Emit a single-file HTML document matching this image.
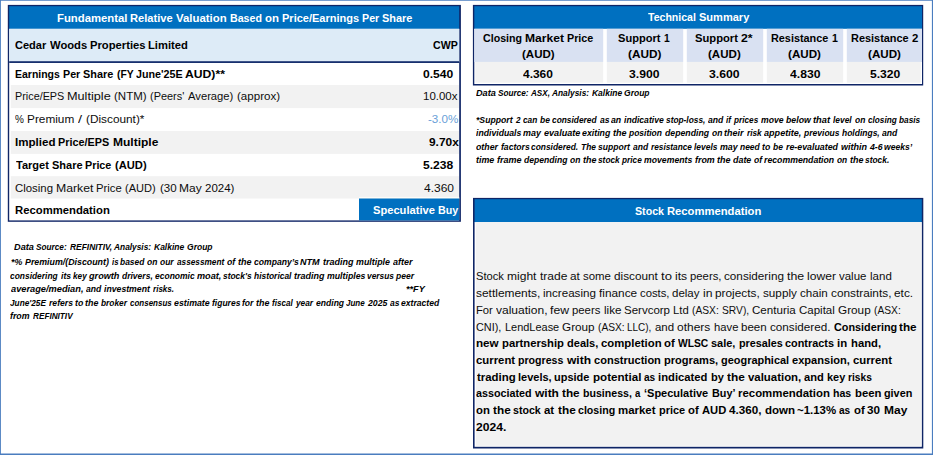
<!DOCTYPE html>
<html><head><meta charset="utf-8"><title>Valuation</title><style>html,body{margin:0;padding:0;background:#fff}body{width:933px;height:455px;position:relative;overflow:hidden;font-family:'Liberation Sans', sans-serif}span{position:absolute;white-space:pre;transform-origin:0 0;line-height:1}.c0{font:normal bold 11.2px/1 'Liberation Sans', sans-serif;color:#fff}.c1{font:normal bold 11.2px/1 'Liberation Sans', sans-serif;color:#000}.c2{font:normal normal 11.2px/1 'Liberation Sans', sans-serif;color:#0d0d0d}.c3{font:normal normal 11.2px/1 'Liberation Sans', sans-serif;color:#6a9fd8}.c4{font:italic bold 9.6px/1 'Liberation Sans', sans-serif;color:#000}</style></head>
<body>
<svg width="933" height="455" viewBox="0 0 933 455" style="position:absolute;left:0;top:0"><rect x="0" y="0" width="933" height="0.75" fill="#4a7dbf"/><rect x="0" y="0" width="0.9" height="455" fill="#4a7dbf"/><rect x="931.9" y="0" width="1.1" height="455" fill="#4a7dbf"/><rect x="0" y="453.5" width="933" height="1.5" fill="#4a7dbf"/><rect x="7.8" y="4.9" width="453.1" height="216.9" fill="#0f2566"/><rect x="9.2" y="6.2" width="450" height="23.8" fill="#0070c0"/><rect x="9.2" y="29" width="450" height="191.4" fill="#fff"/><rect x="9.2" y="28.7" width="450" height="33.3" fill="#ddebf7"/><rect x="9.2" y="61.2" width="450" height="1.8" fill="#17306e"/><rect x="10.8" y="85" width="448.2" height="23.1" fill="#f2f2f2"/><rect x="10.8" y="131" width="448.2" height="22.9" fill="#f2f2f2"/><rect x="10.8" y="176.2" width="448.2" height="22.3" fill="#f2f2f2"/><rect x="359" y="196.9" width="100.2" height="2.1" fill="#fffdf8"/><rect x="359" y="198.5" width="100.2" height="21.9" fill="#0070c0"/><rect x="472.9" y="4.9" width="450.3" height="80.6" fill="#0f2566"/><rect x="474.3" y="6.2" width="447.7" height="23.8" fill="#0070c0"/><rect x="474.3" y="29" width="447.7" height="55" fill="#fff"/><rect x="474.3" y="28.8" width="447.7" height="0.7" fill="#fff"/><rect x="474.3" y="28.8" width="128.9" height="33.2" fill="#d9e1f2"/><rect x="475.3" y="61.9" width="127.9" height="20.8" fill="#f2f2f2"/><rect x="606.8" y="28.8" width="76.4" height="33.2" fill="#d9e1f2"/><rect x="606.8" y="61.9" width="76.4" height="20.8" fill="#f2f2f2"/><rect x="686.8" y="28.8" width="76.4" height="33.2" fill="#d9e1f2"/><rect x="686.8" y="61.9" width="76.4" height="20.8" fill="#f2f2f2"/><rect x="766.8" y="28.8" width="76.4" height="33.2" fill="#d9e1f2"/><rect x="766.8" y="61.9" width="76.4" height="20.8" fill="#f2f2f2"/><rect x="846.8" y="28.8" width="75.2" height="33.2" fill="#d9e1f2"/><rect x="846.8" y="61.9" width="74" height="20.8" fill="#f2f2f2"/><rect x="473" y="197.9" width="450.3" height="250.6" fill="#0f2566"/><rect x="474.6" y="199.2" width="447.2" height="23.8" fill="#0070c0"/><rect x="474.6" y="222.1" width="447.2" height="224.7" fill="#fff"/><rect x="475.9" y="222.1" width="445.5" height="223.7" fill="#f2f2f2"/></svg>
<span class="c0" style="left:56.5px;top:13px;transform:scaleX(1.013)">Fundamental</span>
<span class="c0" style="left:130.1px;top:13px;transform:scaleX(0.993)">Relative</span>
<span class="c0" style="left:175.9px;top:13px;transform:scaleX(1.019)">Valuation</span>
<span class="c0" style="left:229.8px;top:13px;transform:scaleX(0.950)">Based</span>
<span class="c0" style="left:264.8px;top:13px;transform:scaleX(1.020)">on</span>
<span class="c0" style="left:281.7px;top:13px;transform:scaleX(0.985)">Price/Earnings</span>
<span class="c0" style="left:361.9px;top:13px;transform:scaleX(0.955)">Per</span>
<span class="c0" style="left:382.2px;top:13px;transform:scaleX(0.977)">Share</span>
<span class="c1" style="left:15.2px;top:40px;transform:scaleX(0.985)">Cedar</span>
<span class="c1" style="left:49.5px;top:40px;transform:scaleX(1.004)">Woods</span>
<span class="c1" style="left:89.7px;top:40px;transform:scaleX(1.005)">Properties</span>
<span class="c1" style="left:148.2px;top:40px;transform:scaleX(1.002)">Limited</span>
<span class="c1" style="left:432.9px;top:40px;transform:scaleX(0.947)">CWP</span>
<span class="c1" style="left:14.9px;top:69px;transform:scaleX(0.937)">Earnings</span>
<span class="c1" style="left:62.8px;top:69px;transform:scaleX(0.958)">Per</span>
<span class="c1" style="left:83.2px;top:69px;transform:scaleX(0.972)">Share</span>
<span class="c1" style="left:116.7px;top:69px;transform:scaleX(0.922)">(FY</span>
<span class="c1" style="left:135.6px;top:69px;transform:scaleX(0.959)">June&#x27;25E</span>
<span class="c1" style="left:185.2px;top:69px;transform:scaleX(1.087)">AUD)**</span>
<span class="c1" style="left:423.2px;top:69px;transform:scaleX(1.080)">0.540</span>
<span class="c2" style="left:14.7px;top:91px;transform:scaleX(0.967)">Price/EPS</span>
<span class="c2" style="left:67.1px;top:91px;transform:scaleX(1.134)">Multiple</span>
<span class="c2" style="left:114.1px;top:91px;transform:scaleX(1.028)">(NTM)</span>
<span class="c2" style="left:150.2px;top:91px;transform:scaleX(0.977)">(Peers&#x27;</span>
<span class="c2" style="left:187.9px;top:91px;transform:scaleX(1.003)">Average)</span>
<span class="c2" style="left:236.8px;top:91px;transform:scaleX(1.033)">(approx)</span>
<span class="c2" style="left:422.8px;top:91px;transform:scaleX(1.026)">10.00x</span>
<span class="c2" style="left:15.2px;top:114px;transform:scaleX(0.892)">%</span>
<span class="c2" style="left:27.3px;top:114px;transform:scaleX(1.056)">Premium</span>
<span class="c2" style="left:78.1px;top:114px;transform:scaleX(1.300)">/</span>
<span class="c2" style="left:85.9px;top:114px;transform:scaleX(1.056)">(Discount)*</span>
<span class="c3" style="left:427.7px;top:114px;transform:scaleX(1.039)">-3.0%</span>
<span class="c1" style="left:14.8px;top:137px;transform:scaleX(1.034)">Implied</span>
<span class="c1" style="left:58.4px;top:137px;transform:scaleX(0.967)">Price/EPS</span>
<span class="c1" style="left:113.0px;top:137px;transform:scaleX(1.073)">Multiple</span>
<span class="c1" style="left:428.6px;top:137px;transform:scaleX(1.064)">9.70x</span>
<span class="c1" style="left:15.5px;top:160px;transform:scaleX(0.985)">Target</span>
<span class="c1" style="left:51.5px;top:160px;transform:scaleX(0.981)">Share</span>
<span class="c1" style="left:85.1px;top:160px;transform:scaleX(0.963)">Price</span>
<span class="c1" style="left:114.9px;top:160px;transform:scaleX(0.999)">(AUD)</span>
<span class="c1" style="left:423.4px;top:160px;transform:scaleX(1.079)">5.238</span>
<span class="c2" style="left:15.0px;top:183px;transform:scaleX(1.019)">Closing</span>
<span class="c2" style="left:55.6px;top:183px;transform:scaleX(1.095)">Market</span>
<span class="c2" style="left:96.3px;top:183px;transform:scaleX(1.008)">Price</span>
<span class="c2" style="left:125.3px;top:183px;transform:scaleX(0.986)">(AUD)</span>
<span class="c2" style="left:159.5px;top:183px;transform:scaleX(1.032)">(30</span>
<span class="c2" style="left:179.4px;top:183px;transform:scaleX(1.072)">May</span>
<span class="c2" style="left:205.0px;top:183px;transform:scaleX(1.028)">2024)</span>
<span class="c2" style="left:423.8px;top:183px;transform:scaleX(1.072)">4.360</span>
<span class="c1" style="left:14.8px;top:205px;transform:scaleX(1.010)">Recommendation</span>
<span class="c0" style="left:372.9px;top:205px;transform:scaleX(0.995)">Speculative</span>
<span class="c0" style="left:438.0px;top:205px;transform:scaleX(0.955)">Buy</span>
<span class="c4" style="left:14.2px;top:242px;transform:scaleX(0.957)">Data</span>
<span class="c4" style="left:36.4px;top:242px;transform:scaleX(0.858)">Source:</span>
<span class="c4" style="left:69.8px;top:242px;transform:scaleX(0.876)">REFINITIV,</span>
<span class="c4" style="left:114.0px;top:242px;transform:scaleX(0.870)">Analysis:</span>
<span class="c4" style="left:153.8px;top:242px;transform:scaleX(0.886)">Kalkine</span>
<span class="c4" style="left:186.6px;top:242px;transform:scaleX(0.889)">Group</span>
<span class="c4" style="left:10.8px;top:257px;transform:scaleX(0.918)">*%</span>
<span class="c4" style="left:24.8px;top:257px;transform:scaleX(0.920)">Premium/(Discount)</span>
<span class="c4" style="left:111.6px;top:257px;transform:scaleX(0.810)">is</span>
<span class="c4" style="left:120.2px;top:257px;transform:scaleX(0.879)">based</span>
<span class="c4" style="left:147.3px;top:257px;transform:scaleX(0.883)">on</span>
<span class="c4" style="left:160.2px;top:257px;transform:scaleX(0.883)">our</span>
<span class="c4" style="left:176.7px;top:257px;transform:scaleX(0.860)">assessment</span>
<span class="c4" style="left:226.7px;top:257px;transform:scaleX(0.903)">of</span>
<span class="c4" style="left:237.6px;top:257px;transform:scaleX(0.940)">the</span>
<span class="c4" style="left:253.5px;top:257px;transform:scaleX(0.896)">company’s</span>
<span class="c4" style="left:300.3px;top:257px;transform:scaleX(0.947)">NTM</span>
<span class="c4" style="left:322.8px;top:257px;transform:scaleX(0.937)">trading</span>
<span class="c4" style="left:355.9px;top:257px;transform:scaleX(0.924)">multiple</span>
<span class="c4" style="left:392.7px;top:257px;transform:scaleX(0.935)">after</span>
<span class="c4" style="left:10.3px;top:271px;transform:scaleX(0.877)">considering</span>
<span class="c4" style="left:60.7px;top:271px;transform:scaleX(0.898)">its</span>
<span class="c4" style="left:72.8px;top:271px;transform:scaleX(0.858)">key</span>
<span class="c4" style="left:88.7px;top:271px;transform:scaleX(0.952)">growth</span>
<span class="c4" style="left:121.7px;top:271px;transform:scaleX(0.887)">drivers,</span>
<span class="c4" style="left:154.9px;top:271px;transform:scaleX(0.886)">economic</span>
<span class="c4" style="left:196.8px;top:271px;transform:scaleX(0.952)">moat,</span>
<span class="c4" style="left:223.2px;top:271px;transform:scaleX(0.877)">stock&#x27;s</span>
<span class="c4" style="left:253.9px;top:271px;transform:scaleX(0.878)">historical</span>
<span class="c4" style="left:294.0px;top:271px;transform:scaleX(0.935)">trading</span>
<span class="c4" style="left:327.2px;top:271px;transform:scaleX(0.912)">multiples</span>
<span class="c4" style="left:367.4px;top:271px;transform:scaleX(0.872)">versus</span>
<span class="c4" style="left:396.4px;top:271px;transform:scaleX(0.890)">peer</span>
<span class="c4" style="left:10.5px;top:284px;transform:scaleX(0.964)">average/median,</span>
<span class="c4" style="left:85.6px;top:284px;transform:scaleX(0.895)">and</span>
<span class="c4" style="left:103.9px;top:284px;transform:scaleX(0.906)">investment</span>
<span class="c4" style="left:152.5px;top:284px;transform:scaleX(0.840)">risks.</span>
<span class="c4" style="left:405.8px;top:284px;transform:scaleX(0.953)">**FY</span>
<span class="c4" style="left:10.3px;top:298px;transform:scaleX(0.860)">June&#x27;25E</span>
<span class="c4" style="left:48.9px;top:298px;transform:scaleX(0.897)">refers</span>
<span class="c4" style="left:74.6px;top:298px;transform:scaleX(0.908)">to</span>
<span class="c4" style="left:85.3px;top:298px;transform:scaleX(0.928)">the</span>
<span class="c4" style="left:101.3px;top:298px;transform:scaleX(0.870)">broker</span>
<span class="c4" style="left:130.2px;top:298px;transform:scaleX(0.832)">consensus</span>
<span class="c4" style="left:173.7px;top:298px;transform:scaleX(0.917)">estimate</span>
<span class="c4" style="left:211.8px;top:298px;transform:scaleX(0.888)">figures</span>
<span class="c4" style="left:242.2px;top:298px;transform:scaleX(0.893)">for</span>
<span class="c4" style="left:256.3px;top:298px;transform:scaleX(0.928)">the</span>
<span class="c4" style="left:272.0px;top:298px;transform:scaleX(0.842)">fiscal</span>
<span class="c4" style="left:296.0px;top:298px;transform:scaleX(0.866)">year</span>
<span class="c4" style="left:315.8px;top:298px;transform:scaleX(0.894)">ending</span>
<span class="c4" style="left:345.9px;top:298px;transform:scaleX(0.836)">June</span>
<span class="c4" style="left:367.5px;top:298px;transform:scaleX(0.906)">2025</span>
<span class="c4" style="left:389.5px;top:298px;transform:scaleX(0.893)">as</span>
<span class="c4" style="left:400.8px;top:298px;transform:scaleX(0.897)">extracted</span>
<span class="c4" style="left:10.2px;top:311px;transform:scaleX(0.920)">from</span>
<span class="c4" style="left:32.6px;top:311px;transform:scaleX(0.854)">REFINITIV</span>
<span class="c0" style="left:648.0px;top:12px;transform:scaleX(0.943)">Technical</span>
<span class="c0" style="left:698.9px;top:12px;transform:scaleX(0.986)">Summary</span>
<span class="c1" style="left:482.7px;top:33px;transform:scaleX(0.951)">Closing</span>
<span class="c1" style="left:524.5px;top:33px;transform:scaleX(1.081)">Market</span>
<span class="c1" style="left:566.7px;top:33px;transform:scaleX(0.962)">Price</span>
<span class="c1" style="left:521.7px;top:49px;transform:scaleX(1.031)">(AUD)</span>
<span class="c1" style="left:522.7px;top:69px;transform:scaleX(1.068)">4.360</span>
<span class="c1" style="left:618.3px;top:33px;transform:scaleX(0.989)">Support</span>
<span class="c1" style="left:664.2px;top:33px;transform:scaleX(0.921)">1</span>
<span class="c1" style="left:628.0px;top:49px;transform:scaleX(1.057)">(AUD)</span>
<span class="c1" style="left:629.3px;top:69px;transform:scaleX(1.086)">3.900</span>
<span class="c1" style="left:695.0px;top:33px;transform:scaleX(1.001)">Support</span>
<span class="c1" style="left:741.3px;top:33px;transform:scaleX(1.095)">2*</span>
<span class="c1" style="left:708.0px;top:49px;transform:scaleX(1.034)">(AUD)</span>
<span class="c1" style="left:709.3px;top:69px;transform:scaleX(1.093)">3.600</span>
<span class="c1" style="left:771.1px;top:33px;transform:scaleX(0.970)">Resistance</span>
<span class="c1" style="left:831.9px;top:33px;transform:scaleX(0.947)">1</span>
<span class="c1" style="left:788.0px;top:49px;transform:scaleX(1.041)">(AUD)</span>
<span class="c1" style="left:789.8px;top:69px;transform:scaleX(1.086)">4.830</span>
<span class="c1" style="left:850.9px;top:33px;transform:scaleX(0.976)">Resistance</span>
<span class="c1" style="left:911.9px;top:33px;transform:scaleX(1.018)">2</span>
<span class="c1" style="left:868.3px;top:49px;transform:scaleX(1.041)">(AUD)</span>
<span class="c1" style="left:869.6px;top:69px;transform:scaleX(1.084)">5.320</span>
<span class="c4" style="left:475.9px;top:88px;transform:scaleX(0.955)">Data</span>
<span class="c4" style="left:498.1px;top:88px;transform:scaleX(0.857)">Source:</span>
<span class="c4" style="left:530.8px;top:88px;transform:scaleX(0.844)">ASX,</span>
<span class="c4" style="left:551.8px;top:88px;transform:scaleX(0.869)">Analysis:</span>
<span class="c4" style="left:591.6px;top:88px;transform:scaleX(0.883)">Kalkine</span>
<span class="c4" style="left:624.2px;top:88px;transform:scaleX(0.889)">Group</span>
<span class="c4" style="left:476.0px;top:115px;transform:scaleX(0.902)">*Support</span>
<span class="c4" style="left:515.7px;top:115px;transform:scaleX(0.847)">2</span>
<span class="c4" style="left:522.7px;top:115px;transform:scaleX(0.866)">can</span>
<span class="c4" style="left:539.7px;top:115px;transform:scaleX(0.885)">be</span>
<span class="c4" style="left:552.1px;top:115px;transform:scaleX(0.871)">considered</span>
<span class="c4" style="left:599.5px;top:115px;transform:scaleX(0.898)">as</span>
<span class="c4" style="left:611.0px;top:115px;transform:scaleX(0.912)">an</span>
<span class="c4" style="left:624.0px;top:115px;transform:scaleX(0.898)">indicative</span>
<span class="c4" style="left:666.0px;top:115px;transform:scaleX(0.868)">stop-loss,</span>
<span class="c4" style="left:707.9px;top:115px;transform:scaleX(0.897)">and</span>
<span class="c4" style="left:726.2px;top:115px;transform:scaleX(0.841)">if</span>
<span class="c4" style="left:734.1px;top:115px;transform:scaleX(0.856)">prices</span>
<span class="c4" style="left:760.5px;top:115px;transform:scaleX(0.901)">move</span>
<span class="c4" style="left:785.7px;top:115px;transform:scaleX(0.913)">below</span>
<span class="c4" style="left:813.3px;top:115px;transform:scaleX(0.965)">that</span>
<span class="c4" style="left:833.3px;top:115px;transform:scaleX(0.875)">level</span>
<span class="c4" style="left:854.8px;top:115px;transform:scaleX(0.880)">on</span>
<span class="c4" style="left:867.7px;top:115px;transform:scaleX(0.855)">closing</span>
<span class="c4" style="left:899.0px;top:115px;transform:scaleX(0.864)">basis</span>
<span class="c4" style="left:475.9px;top:128px;transform:scaleX(0.905)">individuals</span>
<span class="c4" style="left:523.4px;top:128px;transform:scaleX(0.929)">may</span>
<span class="c4" style="left:543.7px;top:128px;transform:scaleX(0.945)">evaluate</span>
<span class="c4" style="left:582.3px;top:128px;transform:scaleX(0.915)">exiting</span>
<span class="c4" style="left:613.1px;top:128px;transform:scaleX(0.941)">the</span>
<span class="c4" style="left:629.3px;top:128px;transform:scaleX(0.883)">position</span>
<span class="c4" style="left:664.9px;top:128px;transform:scaleX(0.909)">depending</span>
<span class="c4" style="left:711.5px;top:128px;transform:scaleX(0.884)">on</span>
<span class="c4" style="left:724.4px;top:128px;transform:scaleX(0.932)">their</span>
<span class="c4" style="left:746.5px;top:128px;transform:scaleX(0.860)">risk</span>
<span class="c4" style="left:763.8px;top:128px;transform:scaleX(0.948)">appetite,</span>
<span class="c4" style="left:803.8px;top:128px;transform:scaleX(0.889)">previous</span>
<span class="c4" style="left:841.6px;top:128px;transform:scaleX(0.885)">holdings,</span>
<span class="c4" style="left:882.0px;top:128px;transform:scaleX(0.898)">and</span>
<span class="c4" style="left:475.8px;top:142px;transform:scaleX(0.915)">other</span>
<span class="c4" style="left:500.5px;top:142px;transform:scaleX(0.897)">factors</span>
<span class="c4" style="left:531.3px;top:142px;transform:scaleX(0.875)">considered.</span>
<span class="c4" style="left:580.7px;top:142px;transform:scaleX(0.876)">The</span>
<span class="c4" style="left:597.8px;top:142px;transform:scaleX(0.894)">support</span>
<span class="c4" style="left:632.6px;top:142px;transform:scaleX(0.888)">and</span>
<span class="c4" style="left:650.5px;top:142px;transform:scaleX(0.863)">resistance</span>
<span class="c4" style="left:694.2px;top:142px;transform:scaleX(0.880)">levels</span>
<span class="c4" style="left:719.7px;top:142px;transform:scaleX(0.923)">may</span>
<span class="c4" style="left:739.8px;top:142px;transform:scaleX(0.882)">need</span>
<span class="c4" style="left:762.3px;top:142px;transform:scaleX(0.905)">to</span>
<span class="c4" style="left:773.3px;top:142px;transform:scaleX(0.887)">be</span>
<span class="c4" style="left:785.6px;top:142px;transform:scaleX(0.920)">re-evaluated</span>
<span class="c4" style="left:840.5px;top:142px;transform:scaleX(0.942)">within</span>
<span class="c4" style="left:869.5px;top:142px;transform:scaleX(0.911)">4-6</span>
<span class="c4" style="left:884.4px;top:142px;transform:scaleX(0.892)">weeks’</span>
<span class="c4" style="left:475.7px;top:155px;transform:scaleX(0.926)">time</span>
<span class="c4" style="left:496.6px;top:155px;transform:scaleX(0.940)">frame</span>
<span class="c4" style="left:523.7px;top:155px;transform:scaleX(0.896)">depending</span>
<span class="c4" style="left:569.6px;top:155px;transform:scaleX(0.884)">on</span>
<span class="c4" style="left:582.5px;top:155px;transform:scaleX(0.929)">the</span>
<span class="c4" style="left:597.8px;top:155px;transform:scaleX(0.865)">stock</span>
<span class="c4" style="left:622.0px;top:155px;transform:scaleX(0.861)">price</span>
<span class="c4" style="left:644.4px;top:155px;transform:scaleX(0.905)">movements</span>
<span class="c4" style="left:694.6px;top:155px;transform:scaleX(0.927)">from</span>
<span class="c4" style="left:716.8px;top:155px;transform:scaleX(0.936)">the</span>
<span class="c4" style="left:732.7px;top:155px;transform:scaleX(0.927)">date</span>
<span class="c4" style="left:753.7px;top:155px;transform:scaleX(0.894)">of</span>
<span class="c4" style="left:764.4px;top:155px;transform:scaleX(0.908)">recommendation</span>
<span class="c4" style="left:837.3px;top:155px;transform:scaleX(0.873)">on</span>
<span class="c4" style="left:850.1px;top:155px;transform:scaleX(0.930)">the</span>
<span class="c4" style="left:865.3px;top:155px;transform:scaleX(0.874)">stock.</span>
<span class="c0" style="left:635.0px;top:206px;transform:scaleX(0.951)">Stock</span>
<span class="c0" style="left:667.0px;top:206px;transform:scaleX(1.004)">Recommendation</span>
<span class="c2" style="left:475.9px;top:271px;transform:scaleX(0.999)">Stock</span>
<span class="c2" style="left:507.0px;top:271px;transform:scaleX(1.075)">might</span>
<span class="c2" style="left:539.5px;top:271px;transform:scaleX(1.076)">trade</span>
<span class="c2" style="left:570.0px;top:271px;transform:scaleX(1.058)">at</span>
<span class="c2" style="left:583.0px;top:271px;transform:scaleX(1.021)">some</span>
<span class="c2" style="left:614.1px;top:271px;transform:scaleX(1.051)">discount</span>
<span class="c2" style="left:660.9px;top:271px;transform:scaleX(1.172)">to</span>
<span class="c2" style="left:674.6px;top:271px;transform:scaleX(1.085)">its</span>
<span class="c2" style="left:689.9px;top:271px;transform:scaleX(1.012)">peers,</span>
<span class="c2" style="left:724.2px;top:271px;transform:scaleX(1.047)">considering</span>
<span class="c2" style="left:786.7px;top:271px;transform:scaleX(1.103)">the</span>
<span class="c2" style="left:807.0px;top:271px;transform:scaleX(1.083)">lower</span>
<span class="c2" style="left:839.0px;top:271px;transform:scaleX(1.025)">value</span>
<span class="c2" style="left:869.6px;top:271px;transform:scaleX(1.030)">land</span>
<span class="c2" style="left:476.0px;top:288px;transform:scaleX(1.067)">settlements,</span>
<span class="c2" style="left:543.3px;top:288px;transform:scaleX(1.037)">increasing</span>
<span class="c2" style="left:598.7px;top:288px;transform:scaleX(1.058)">finance</span>
<span class="c2" style="left:639.7px;top:288px;transform:scaleX(1.010)">costs,</span>
<span class="c2" style="left:672.0px;top:288px;transform:scaleX(1.028)">delay</span>
<span class="c2" style="left:702.6px;top:288px;transform:scaleX(1.089)">in</span>
<span class="c2" style="left:715.3px;top:288px;transform:scaleX(1.059)">projects,</span>
<span class="c2" style="left:763.1px;top:288px;transform:scaleX(1.047)">supply</span>
<span class="c2" style="left:799.9px;top:288px;transform:scaleX(1.037)">chain</span>
<span class="c2" style="left:830.7px;top:288px;transform:scaleX(1.056)">constraints,</span>
<span class="c2" style="left:893.9px;top:288px;transform:scaleX(1.060)">etc.</span>
<span class="c2" style="left:475.7px;top:305px;transform:scaleX(1.005)">For</span>
<span class="c2" style="left:495.5px;top:305px;transform:scaleX(1.075)">valuation,</span>
<span class="c2" style="left:549.6px;top:305px;transform:scaleX(1.094)">few</span>
<span class="c2" style="left:571.9px;top:305px;transform:scaleX(1.013)">peers</span>
<span class="c2" style="left:603.6px;top:305px;transform:scaleX(1.042)">like</span>
<span class="c2" style="left:623.7px;top:305px;transform:scaleX(1.028)">Servcorp</span>
<span class="c2" style="left:672.7px;top:305px;transform:scaleX(1.009)">Ltd</span>
<span class="c2" style="left:692.0px;top:305px;transform:scaleX(0.915)">(ASX:</span>
<span class="c2" style="left:721.6px;top:305px;transform:scaleX(0.916)">SRV),</span>
<span class="c2" style="left:751.7px;top:305px;transform:scaleX(1.036)">Centuria</span>
<span class="c2" style="left:799.0px;top:305px;transform:scaleX(1.028)">Capital</span>
<span class="c2" style="left:837.9px;top:305px;transform:scaleX(1.051)">Group</span>
<span class="c2" style="left:873.8px;top:305px;transform:scaleX(0.915)">(ASX:</span>
<span class="c2" style="left:476.0px;top:322px;transform:scaleX(0.973)">CNI),</span>
<span class="c2" style="left:504.5px;top:322px;transform:scaleX(0.979)">LendLease</span>
<span class="c2" style="left:561.7px;top:322px;transform:scaleX(1.050)">Group</span>
<span class="c2" style="left:597.6px;top:322px;transform:scaleX(0.912)">(ASX:</span>
<span class="c2" style="left:627.4px;top:322px;transform:scaleX(0.888)">LLC),</span>
<span class="c2" style="left:654.9px;top:322px;transform:scaleX(1.024)">and</span>
<span class="c2" style="left:677.3px;top:322px;transform:scaleX(1.069)">others</span>
<span class="c2" style="left:713.7px;top:322px;transform:scaleX(1.005)">have</span>
<span class="c2" style="left:741.4px;top:322px;transform:scaleX(1.031)">been</span>
<span class="c2" style="left:770.3px;top:322px;transform:scaleX(1.046)">considered.</span>
<span class="c1" style="left:833.6px;top:322px;transform:scaleX(0.968)">Considering</span>
<span class="c1" style="left:899.4px;top:322px;transform:scaleX(1.047)">the</span>
<span class="c1" style="left:475.8px;top:338px;transform:scaleX(1.042)">new</span>
<span class="c1" style="left:501.6px;top:338px;transform:scaleX(1.007)">partnership</span>
<span class="c1" style="left:566.7px;top:338px;transform:scaleX(0.987)">deals,</span>
<span class="c1" style="left:600.8px;top:338px;transform:scaleX(1.015)">completion</span>
<span class="c1" style="left:664.3px;top:338px;transform:scaleX(1.016)">of</span>
<span class="c1" style="left:678.3px;top:338px;transform:scaleX(0.920)">WLSC</span>
<span class="c1" style="left:711.0px;top:338px;transform:scaleX(0.981)">sale,</span>
<span class="c1" style="left:738.6px;top:338px;transform:scaleX(0.966)">presales</span>
<span class="c1" style="left:785.4px;top:338px;transform:scaleX(0.972)">contracts</span>
<span class="c1" style="left:837.3px;top:338px;transform:scaleX(1.019)">in</span>
<span class="c1" style="left:850.6px;top:338px;transform:scaleX(1.007)">hand,</span>
<span class="c1" style="left:476.1px;top:355px;transform:scaleX(1.014)">current</span>
<span class="c1" style="left:518.4px;top:355px;transform:scaleX(0.949)">progress</span>
<span class="c1" style="left:567.0px;top:355px;transform:scaleX(1.072)">with</span>
<span class="c1" style="left:594.0px;top:355px;transform:scaleX(0.987)">construction</span>
<span class="c1" style="left:664.1px;top:355px;transform:scaleX(0.989)">programs,</span>
<span class="c1" style="left:721.1px;top:355px;transform:scaleX(0.978)">geographical</span>
<span class="c1" style="left:792.3px;top:355px;transform:scaleX(0.990)">expansion,</span>
<span class="c1" style="left:853.1px;top:355px;transform:scaleX(1.012)">current</span>
<span class="c1" style="left:476.5px;top:372px;transform:scaleX(1.021)">trading</span>
<span class="c1" style="left:517.7px;top:372px;transform:scaleX(0.983)">levels,</span>
<span class="c1" style="left:554.3px;top:372px;transform:scaleX(0.979)">upside</span>
<span class="c1" style="left:592.7px;top:372px;transform:scaleX(1.038)">potential</span>
<span class="c1" style="left:644.3px;top:372px;transform:scaleX(0.903)">as</span>
<span class="c1" style="left:658.4px;top:372px;transform:scaleX(1.006)">indicated</span>
<span class="c1" style="left:711.0px;top:372px;transform:scaleX(0.985)">by</span>
<span class="c1" style="left:726.9px;top:372px;transform:scaleX(1.061)">the</span>
<span class="c1" style="left:747.7px;top:372px;transform:scaleX(1.020)">valuation,</span>
<span class="c1" style="left:804.2px;top:372px;transform:scaleX(0.994)">and</span>
<span class="c1" style="left:827.0px;top:372px;transform:scaleX(0.978)">key</span>
<span class="c1" style="left:848.4px;top:372px;transform:scaleX(0.913)">risks</span>
<span class="c1" style="left:476.2px;top:388px;transform:scaleX(0.961)">associated</span>
<span class="c1" style="left:535.0px;top:388px;transform:scaleX(1.069)">with</span>
<span class="c1" style="left:562.1px;top:388px;transform:scaleX(1.053)">the</span>
<span class="c1" style="left:582.8px;top:388px;transform:scaleX(0.947)">business,</span>
<span class="c1" style="left:635.0px;top:388px;transform:scaleX(0.854)">a</span>
<span class="c1" style="left:644.3px;top:388px;transform:scaleX(0.983)">‘Speculative</span>
<span class="c1" style="left:711.5px;top:388px;transform:scaleX(0.968)">Buy’</span>
<span class="c1" style="left:738.3px;top:388px;transform:scaleX(1.020)">recommendation</span>
<span class="c1" style="left:833.4px;top:388px;transform:scaleX(0.944)">has</span>
<span class="c1" style="left:854.6px;top:388px;transform:scaleX(1.014)">been</span>
<span class="c1" style="left:884.2px;top:388px;transform:scaleX(0.968)">given</span>
<span class="c1" style="left:476.1px;top:405px;transform:scaleX(1.015)">on</span>
<span class="c1" style="left:492.9px;top:405px;transform:scaleX(1.055)">the</span>
<span class="c1" style="left:513.3px;top:405px;transform:scaleX(0.949)">stock</span>
<span class="c1" style="left:544.3px;top:405px;transform:scaleX(1.023)">at</span>
<span class="c1" style="left:557.8px;top:405px;transform:scaleX(1.055)">the</span>
<span class="c1" style="left:578.4px;top:405px;transform:scaleX(0.949)">closing</span>
<span class="c1" style="left:618.0px;top:405px;transform:scaleX(1.022)">market</span>
<span class="c1" style="left:658.9px;top:405px;transform:scaleX(0.979)">price</span>
<span class="c1" style="left:688.1px;top:405px;transform:scaleX(1.011)">of</span>
<span class="c1" style="left:701.7px;top:405px;transform:scaleX(1.001)">AUD</span>
<span class="c1" style="left:729.0px;top:405px;transform:scaleX(1.044)">4.360,</span>
<span class="c1" style="left:764.6px;top:405px;transform:scaleX(1.031)">down</span>
<span class="c1" style="left:797.3px;top:405px;transform:scaleX(1.021)">~1.13%</span>
<span class="c1" style="left:839.4px;top:405px;transform:scaleX(0.902)">as</span>
<span class="c1" style="left:853.6px;top:405px;transform:scaleX(1.019)">of</span>
<span class="c1" style="left:867.4px;top:405px;transform:scaleX(1.045)">30</span>
<span class="c1" style="left:883.5px;top:405px;transform:scaleX(1.070)">May</span>
<span class="c1" style="left:476.2px;top:422px;transform:scaleX(1.082)">2024.</span>
</body></html>
